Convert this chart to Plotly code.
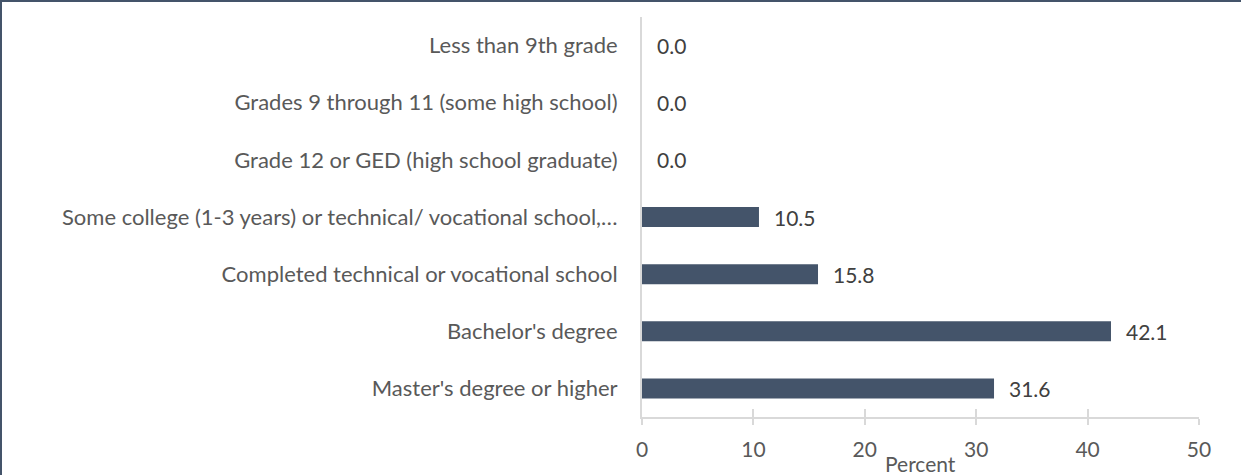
import plotly.graph_objects as go

categories = [
    "Less than 9th grade",
    "Grades 9 through 11 (some high school)",
    "Grade 12 or GED (high school graduate)",
    "Some college (1-3 years) or technical/ vocational school,…",
    "Completed technical or vocational school",
    "Bachelor's degree",
    "Master's degree or higher",
]
values = [0.0, 0.0, 0.0, 10.5, 15.8, 42.1, 31.6]
x_ticks = [0, 10, 20, 30, 40, 50]
x_title = "Percent"

W, H = 1241, 475
ml, mr, mt, mb = 642, 42, 17, 58
FONT = "Lato"
FS = 22
GRID = "#d9d9d9"

fig = go.Figure(go.Bar(
    x=values, y=categories, orientation="h",
    marker=dict(color="#44546A", line=dict(width=0)),
    width=0.35,
    hoverinfo="x+y",
))
# helper trace so the overlay axis (inner tick marks) is drawn
fig.add_trace(go.Scatter(x=values, y=categories, xaxis="x2", mode="markers",
                         marker=dict(opacity=0), hoverinfo="skip"))

for c, v in zip(categories, values):
    fig.add_annotation(x=v, y=c, xref="x", yref="y", text=f"{v:.1f}",
                       showarrow=False, xanchor="left", xshift=13,
                       font=dict(family=FONT, size=FS - 1, color="#404040"))

fig.add_annotation(x=0.5, y=0, xref="paper", yref="paper", yshift=-46,
                   text=x_title, showarrow=False, xanchor="center", yanchor="middle",
                   font=dict(family=FONT, size=21, color="#595959"))

pw = W - ml - mr
ph = H - mt - mb
fig.add_shape(type="rect", xref="paper", yref="paper",
              x0=-(ml - 1) / pw, x1=1 + (mr + 10) / pw,
              y0=-(mb + 10) / ph, y1=1 + (mt - 1) / ph,
              line=dict(color="#44546A", width=2), layer="below")

fig.update_layout(
    width=W, height=H,
    margin=dict(l=ml, r=mr, t=mt, b=mb),
    paper_bgcolor="white", plot_bgcolor="white",
    showlegend=False,
    font=dict(family=FONT, size=FS, color="#595959"),
    xaxis=dict(
        range=[0, 50], tickvals=x_ticks, showgrid=False, zeroline=False,
        showline=True, linecolor=GRID, linewidth=2,
        ticks="outside", ticklen=6, tickcolor=GRID, tickwidth=2,
        ticklabelstandoff=7,
        tickfont=dict(family=FONT, size=FS - 1, color="#595959"),
    ),
    xaxis2=dict(
        range=[0, 50], tickvals=x_ticks, overlaying="x", side="bottom",
        anchor="y", showgrid=False, zeroline=False, showline=False,
        ticks="inside", ticklen=8, tickcolor=GRID, tickwidth=2,
        showticklabels=False,
    ),
    yaxis=dict(
        autorange="reversed", showgrid=False, zeroline=False,
        showline=True, linecolor=GRID, linewidth=2,
        ticks="", ticklabelstandoff=18,
        tickfont=dict(family=FONT, size=FS, color="#595959"),
    ),
)

fig.write_html("out.html", config={"displayModeBar": False},
               post_script="document.body.style.margin='0';")
